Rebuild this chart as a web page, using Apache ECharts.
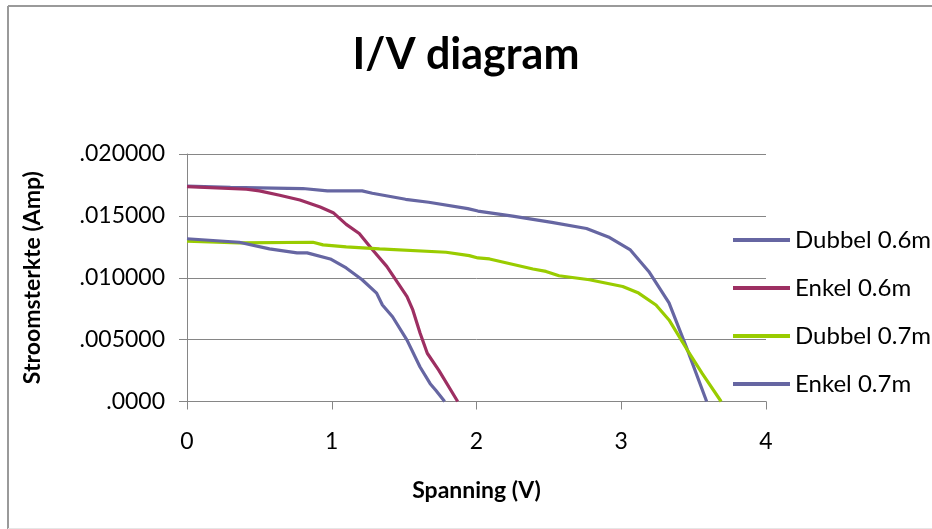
<!DOCTYPE html>
<html>
<head>
<meta charset="utf-8">
<script src="https://cdn.jsdelivr.net/npm/echarts@6/dist/echarts.min.js"></script>
<style>html,body{margin:0;padding:0;background:#fff}#c{width:932px;height:529px}</style>
</head>
<body>
<div id="c"></div>
<script>
const seriesNames = ['Dubbel 0.6m', 'Enkel 0.6m', 'Dubbel 0.7m', 'Enkel 0.7m'];
const xTicks = [0, 1, 2, 3, 4];
const yTickLabels = ['.0000', '.005000', '.010000', '.015000', '.020000'];

const dubbel06 = [[0,0.0174],[0.3,0.0173],[0.8,0.01721],[0.97,0.01702],[1.21,0.01702],[1.28,0.01683],[1.51,0.01634],[1.67,0.0161],[1.94,0.01559],[2.01,0.01539],[2.25,0.01498],[2.52,0.01447],[2.76,0.01398],[2.92,0.01325],[3.06,0.01228],[3.19,0.01051],[3.33,0.00797],[3.45,0.00439],[3.59,0]];
const enkel06 = [[0,0.01737],[0.41,0.01715],[0.5,0.01702],[0.64,0.01667],[0.78,0.01628],[0.92,0.01571],[1.01,0.01526],[1.1,0.01431],[1.19,0.01358],[1.28,0.01228],[1.38,0.01092],[1.52,0.00848],[1.56,0.0074],[1.61,0.00553],[1.66,0.0039],[1.74,0.00252],[1.87,0]];
const dubbel07 = [[0,0.01295],[0.36,0.01282],[0.87,0.01287],[0.94,0.01266],[1.1,0.0125],[1.33,0.01233],[1.79,0.01206],[1.95,0.01179],[2.01,0.0116],[2.09,0.01152],[2.39,0.01071],[2.48,0.01051],[2.57,0.01016],[2.78,0.00984],[3.01,0.00929],[3.12,0.00876],[3.24,0.0078],[3.33,0.00659],[3.45,0.00428],[3.56,0.00225],[3.69,0]];
const enkel07 = [[0,0.01315],[0.36,0.01287],[0.57,0.01233],[0.76,0.01201],[0.83,0.01201],[0.99,0.01152],[1.1,0.01079],[1.21,0.00984],[1.31,0.00876],[1.35,0.0078],[1.42,0.00685],[1.52,0.00496],[1.61,0.00279],[1.68,0.00144],[1.72,0.00089],[1.78,0]];

const colors = ['#6666A2', '#9D2F62', '#99CC00', '#6666A2'];
const dataSets = [dubbel06, enkel06, dubbel07, enkel07];
const FONT = 'Lato';

const chart = echarts.init(document.getElementById('c'));
chart.setOption({
  animation: false,
  title: {
    text: 'I/V diagram', left: 'center', top: 29,
    textStyle: { fontFamily: FONT, fontWeight: 'bold', fontSize: 43, color: '#000' }
  },
  graphic: [
    { type: 'line', shape: { x1: 8, y1: 6, x2: 932, y2: 6 }, style: { stroke: '#9a9a9a', lineWidth: 2 }, silent: true },
    { type: 'line', shape: { x1: 8, y1: 6, x2: 8, y2: 529 }, style: { stroke: '#9a9a9a', lineWidth: 2 }, silent: true },
    { type: 'line', shape: { x1: 8, y1: 528.5, x2: 932, y2: 528.5 }, style: { stroke: '#e6e6e6', lineWidth: 1 }, silent: true }
  ],
  grid: { left: 187, right: 166, top: 154, bottom: 127.5, containLabel: false },
  legend: {
    orient: 'vertical', left: 728, top: 223, itemWidth: 57, itemHeight: 4, itemGap: 24,
    icon: 'rect',
    data: seriesNames,
    textStyle: { fontFamily: FONT, fontSize: 24, lineHeight: 24, color: '#000' }
  },
  xAxis: {
    type: 'value', min: 0, max: 4, interval: 1,
    name: 'Spanning (V)', nameLocation: 'middle', nameGap: 78,
    nameTextStyle: { fontFamily: FONT, fontWeight: 'bold', fontSize: 23, color: '#000' },
    axisLine: { lineStyle: { color: '#868686', width: 1 } },
    axisTick: { show: true, length: 8, lineStyle: { color: '#868686' } },
    axisLabel: { fontFamily: FONT, fontSize: 23, color: '#000', margin: 29,
      formatter: v => String(xTicks[Math.round(v)]) },
    splitLine: { show: false }
  },
  yAxis: {
    type: 'value', min: 0, max: 0.02, interval: 0.005,
    name: 'Stroomsterkte (Amp)', nameLocation: 'middle', nameGap: 143, nameRotate: 90,
    nameTextStyle: { fontFamily: FONT, fontWeight: 'bold', fontSize: 23, color: '#000' },
    axisLine: { show: true, lineStyle: { color: '#868686', width: 1 } },
    axisTick: { show: true, length: 8, lineStyle: { color: '#868686' } },
    axisLabel: { fontFamily: FONT, fontSize: 23, color: '#000', margin: 22,
      formatter: v => yTickLabels[Math.round(v / 0.005)] },
    splitLine: { show: true, lineStyle: { color: '#868686', width: 1 } }
  },
  series: seriesNames.map((n, i) => ({
    name: n, type: 'line', data: dataSets[i], symbol: 'none', smooth: false,
    lineStyle: { color: colors[i], width: 3.2 }, itemStyle: { color: colors[i] }
  }))
});
</script>
</body>
</html>
